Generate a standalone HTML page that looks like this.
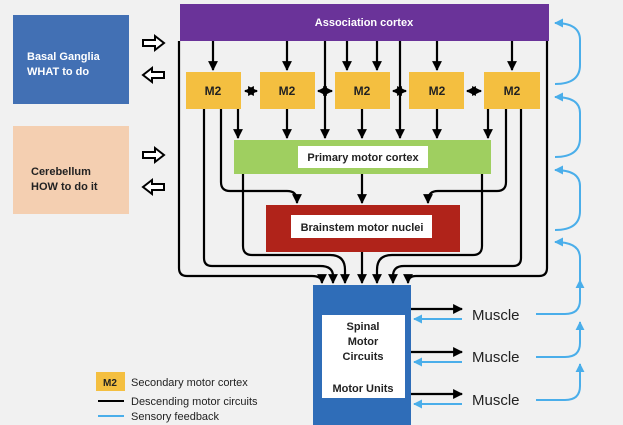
<!DOCTYPE html>
<html><head><meta charset="utf-8"><style>
html,body{margin:0;padding:0;background:#f1f1f1;}
svg{display:block;font-family:"Liberation Sans",sans-serif;}
</style></head><body>
<svg width="623" height="425" viewBox="0 0 623 425" xmlns="http://www.w3.org/2000/svg">
<defs>
<marker id="a" viewBox="0 0 10 10" refX="9" refY="5" markerWidth="4.5" markerHeight="4.5" orient="auto-start-reverse"><path d="M0,0L10,5L0,10z" fill="#000"/></marker>
<marker id="b" viewBox="0 0 10 10" refX="9" refY="5" markerWidth="4.5" markerHeight="4.5" orient="auto-start-reverse"><path d="M0,0L10,5L0,10z" fill="#4aaeea"/></marker>
</defs>
<rect width="623" height="425" fill="#f1f1f1"/>
<rect x="13" y="15" width="116" height="89" fill="#4270b4"/>
<text x="27" y="60" fill="#fff" font-size="11" font-weight="bold">Basal Ganglia</text>
<text x="27" y="75" fill="#fff" font-size="11" font-weight="bold">WHAT to do</text>
<rect x="13" y="126" width="116" height="88" fill="#f4cfb1"/>
<text x="31" y="175" fill="#222" font-size="11" font-weight="bold">Cerebellum</text>
<text x="31" y="190" fill="#222" font-size="11" font-weight="bold">HOW to do it</text>
<g fill="#fff" stroke="#000" stroke-width="2">
<path d="M143 40h12v-4l9 7-9 7v-4h-12z"/>
<path d="M164 72h-12v-4l-9 7 9 7v-4h12z"/>
<path d="M143 152h12v-4l9 7-9 7v-4h-12z"/>
<path d="M164 184h-12v-4l-9 7 9 7v-4h12z"/>
</g>
<rect x="180" y="4" width="369" height="37" fill="#6a3399"/>
<text x="364" y="26" fill="#fff" font-size="11" font-weight="bold" text-anchor="middle">Association cortex</text>
<g stroke="#000" stroke-width="2.2" fill="none">
<path d="M213 41V70" marker-end="url(#a)"/>
<path d="M287 41V70" marker-end="url(#a)"/>
<path d="M347 41V70" marker-end="url(#a)"/>
<path d="M377 41V70" marker-end="url(#a)"/>
<path d="M437 41V70" marker-end="url(#a)"/>
<path d="M512 41V70" marker-end="url(#a)"/>
<path d="M325 41V138" marker-end="url(#a)"/>
<path d="M400 41V138" marker-end="url(#a)"/>
<path d="M245 91H257" marker-start="url(#a)" marker-end="url(#a)"/>
<path d="M318 91H332" marker-start="url(#a)" marker-end="url(#a)"/>
<path d="M393 91H406" marker-start="url(#a)" marker-end="url(#a)"/>
<path d="M467 91H481" marker-start="url(#a)" marker-end="url(#a)"/>
<path d="M238 109V138" marker-end="url(#a)"/>
<path d="M287 109V138" marker-end="url(#a)"/>
<path d="M362 109V138" marker-end="url(#a)"/>
<path d="M437 109V138" marker-end="url(#a)"/>
<path d="M488 109V138" marker-end="url(#a)"/>
<path d="M221 109V182Q221 191 230 191H287Q297 191 297 201V203" marker-end="url(#a)"/>
<path d="M506 109V182Q506 191 497 191H438Q428 191 428 201V203" marker-end="url(#a)"/>
<path d="M362 174V203" marker-end="url(#a)"/>
<path d="M362 252V283" marker-end="url(#a)"/>
<path d="M243 174V246Q243 255 252 255H330Q345 255 345 270V283" marker-end="url(#a)"/>
<path d="M482 174V246Q482 255 473 255H392Q377 255 377 270V283" marker-end="url(#a)"/>
<path d="M204 109V258Q204 266 212 266H320Q333 266 333 276V283" marker-end="url(#a)"/>
<path d="M521 109V258Q521 266 513 266H404Q393 266 393 276V283" marker-end="url(#a)"/>
<path d="M179 41V268Q179 276 187 276H312Q322 276 322 283" marker-end="url(#a)"/>
<path d="M547 41V268Q547 276 539 276H416Q408 276 408 283" marker-end="url(#a)"/>
<path d="M411 309H462" marker-end="url(#a)"/>
<path d="M411 352H462" marker-end="url(#a)"/>
<path d="M411 394H462" marker-end="url(#a)"/>
</g>
<g fill="#f4bf40">
<rect x="186" y="72" width="55" height="37"/><rect x="260" y="72" width="55" height="37"/>
<rect x="335" y="72" width="55" height="37"/><rect x="409" y="72" width="55" height="37"/>
<rect x="484" y="72" width="56" height="37"/>
</g>
<g font-size="12" font-weight="bold" fill="#222" text-anchor="middle">
<text x="213" y="95">M2</text><text x="287" y="95">M2</text><text x="362" y="95">M2</text><text x="437" y="95">M2</text><text x="512" y="95">M2</text>
</g>
<rect x="234" y="140" width="257" height="34" fill="#9fcf60"/>
<rect x="298" y="146" width="130" height="22" fill="#fff"/>
<text x="363" y="161" font-size="11" font-weight="bold" fill="#222" text-anchor="middle">Primary motor cortex</text>
<rect x="266" y="205" width="194" height="47" fill="#b0231a"/>
<rect x="291" y="215" width="141" height="23" fill="#fff"/>
<text x="362" y="231" font-size="11" font-weight="bold" fill="#222" text-anchor="middle">Brainstem motor nuclei</text>
<rect x="313" y="285" width="98" height="140" fill="#2f6db8"/>
<rect x="322" y="315" width="83" height="83" fill="#fff"/>
<g font-size="11" font-weight="bold" fill="#222" text-anchor="middle">
<text x="363" y="330">Spinal</text><text x="363" y="345">Motor</text><text x="363" y="360">Circuits</text><text x="363" y="392">Motor Units</text>
</g>
<g font-size="15" fill="#222">
<text x="472" y="320">Muscle</text><text x="472" y="362">Muscle</text><text x="472" y="405">Muscle</text>
</g>
<g stroke="#4aaeea" stroke-width="2" fill="none">
<path d="M462 319H414" marker-end="url(#b)"/>
<path d="M462 362H414" marker-end="url(#b)"/>
<path d="M462 404H414" marker-end="url(#b)"/>
<path d="M555 84Q580 84 580 65V40Q580 23 555 23" marker-end="url(#b)"/>
<path d="M555 157Q580 157 580 138V113Q580 97 555 97" marker-end="url(#b)"/>
<path d="M555 230Q580 230 580 211V186Q580 170 555 170" marker-end="url(#b)"/>
<path d="M580 290V258Q580 242 555 242" marker-end="url(#b)"/>
<path d="M536 314H565Q580 314 580 300V280" marker-end="url(#b)"/>
<path d="M536 357H565Q580 357 580 343V322" marker-end="url(#b)"/>
<path d="M536 400H565Q580 400 580 386V364" marker-end="url(#b)"/>
</g>
<rect x="96" y="372" width="29" height="19" fill="#f4bf40"/>
<text x="110" y="386" font-size="10" font-weight="bold" fill="#222" text-anchor="middle">M2</text>
<line x1="98" y1="401" x2="124" y2="401" stroke="#000" stroke-width="2"/>
<line x1="98" y1="416" x2="124" y2="416" stroke="#4aaeea" stroke-width="2"/>
<g font-size="11" fill="#222">
<text x="131" y="386">Secondary motor cortex</text>
<text x="131" y="405">Descending motor circuits</text>
<text x="131" y="420">Sensory feedback</text>
</g>
</svg>
</body></html>
